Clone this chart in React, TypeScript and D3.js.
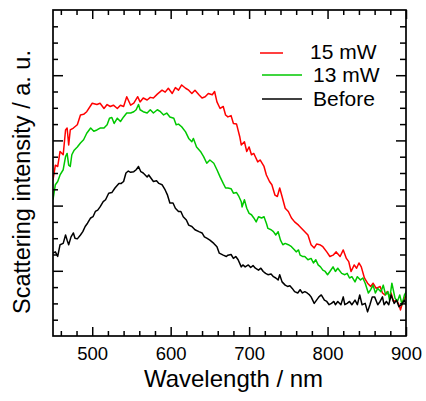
import { useRef, useEffect } from "react";
import * as d3 from "d3";

// 15 mW (red)
const redWl = [
  450, 453, 456, 459, 463, 466, 468, 470, 472, 476, 481, 485, 489, 493, 500, 506, 510, 515, 519, 523,
  527, 532, 536, 540, 544, 549, 553, 558, 561, 565, 570, 574, 578, 583, 589, 593, 597, 602, 606, 610,
  614, 619, 623, 627, 631, 636, 640, 644, 648, 653, 656, 659, 663, 667, 670,
  673, 677, 680, 684, 688, 690, 694, 697, 700, 703, 706, 711, 714, 719, 722, 726, 729, 733, 736, 739,
  742, 746, 750, 754, 758, 763, 767, 771, 775, 779, 783, 786, 790, 794, 799, 803, 807, 811, 816, 820,
  824, 827, 830, 834, 837, 840, 843, 847, 851, 855, 858, 862, 867, 870, 873, 876, 879, 881, 884, 888,
  891, 893, 896, 899, 902,
];
const redVal = [
  2.39, 2.62, 2.6, 2.83, 2.78, 3.16, 3.19, 2.93, 3.16, 3.19, 3.24, 3.39, 3.4, 3.44, 3.57, 3.55, 3.57, 3.49, 3.55, 3.52,
  3.54, 3.49, 3.54, 3.52, 3.67, 3.54, 3.57, 3.67, 3.59, 3.65, 3.62, 3.66, 3.65, 3.71, 3.77, 3.74, 3.8, 3.72, 3.81, 3.77,
  3.85, 3.8, 3.77, 3.72, 3.77, 3.7, 3.65, 3.67, 3.72, 3.7, 3.75, 3.59, 3.49, 3.52, 3.39,
  3.36, 3.38, 3.26, 3.25, 3.06, 2.93, 2.98, 2.83, 2.9, 2.78, 2.8, 2.67, 2.7, 2.6, 2.47, 2.37, 2.32, 2.16, 2.14, 2.27,
  2.14, 1.96, 1.91, 1.81, 1.75, 1.7, 1.65, 1.6, 1.55, 1.4, 1.35, 1.41, 1.4, 1.37, 1.29, 1.22, 1.24, 1.29, 1.22, 1.32,
  1.19, 1.14, 0.99, 1.09, 1.04, 1.12, 1.06, 0.89, 0.81, 0.76, 0.81, 0.73, 0.76, 0.66, 0.63, 0.68, 0.6, 0.66, 0.53, 0.55,
  0.48, 0.4, 0.53, 0.6, 0.63,
];

// 13 mW (green)
const greenWl = [
  450, 453, 456, 459, 463, 466, 468, 470, 472, 474, 477, 481, 485, 489, 493, 498, 502, 506, 510, 515,
  519, 522, 525, 528, 532, 536, 540, 544, 549, 553, 556, 559, 561, 565, 570, 574, 578, 583, 587, 591,
  595, 599, 604, 607, 610, 614, 619, 623, 627, 629, 633, 638, 642, 646, 650, 655, 659, 663, 667, 670,
  673, 677, 680, 684, 687, 690, 691, 694, 697, 700, 703, 706, 709, 712, 716, 719, 722, 724, 728, 731,
  734, 737, 740, 743, 746, 750, 754, 758, 760, 763, 765, 768, 771, 775, 779, 782, 785, 788, 791, 794,
  797, 800, 803, 807, 810, 813, 818, 822, 825, 828, 831, 835, 838, 842, 845, 848, 852, 855, 858, 861,
  864, 868, 871, 874, 877, 879, 882, 886, 889, 892, 895, 898, 902,
];
const greenVal = [
  2.09, 2.32, 2.37, 2.47, 2.55, 2.75, 2.8, 2.62, 2.6, 2.78, 2.85, 2.9, 2.96, 3.01, 3.11, 3.19, 3.14, 3.16, 3.19, 3.19,
  3.24, 3.34, 3.35, 3.26, 3.34, 3.29, 3.36, 3.42, 3.42, 3.44, 3.47, 3.55, 3.47, 3.44, 3.42, 3.47, 3.42, 3.47, 3.44, 3.39,
  3.42, 3.36, 3.34, 3.24, 3.25, 3.21, 3.13, 3.03, 2.98, 3.03, 2.9, 2.83, 2.75, 2.65, 2.7, 2.65, 2.55, 2.44, 2.34, 2.27,
  2.27, 2.26, 2.19, 2.2, 2.14, 2.06, 1.98, 2.09, 1.96, 1.88, 1.86, 1.81, 1.75, 1.83, 1.81, 1.83, 1.73, 1.65, 1.63, 1.6,
  1.55, 1.6, 1.47, 1.4, 1.42, 1.4, 1.37, 1.32, 1.29, 1.32, 1.24, 1.22, 1.22, 1.17, 1.19, 1.12, 1.17, 1.09, 1.06, 1.01,
  0.99, 0.94, 0.99, 1.06, 0.99, 1.04, 0.96, 0.94, 0.96, 0.89, 0.91, 0.83, 0.91, 0.86, 0.89, 0.81, 0.66, 0.71, 0.78, 0.66,
  0.73, 0.68, 0.78, 0.63, 0.68, 0.55, 0.81, 0.58, 0.53, 0.63, 0.48, 0.63, 0.71,
];

// Before (black)
const blackWl = [
  450, 453, 456, 459, 463, 466, 468, 470, 473, 476, 478, 481, 485, 488, 491, 494, 498, 501, 504, 507,
  510, 514, 517, 521, 525, 529, 534, 537, 540, 543, 546, 549, 553, 556, 559, 562, 565, 570, 572, 575,
  578, 582, 585, 589, 593, 596, 599, 603, 606, 610, 613, 616, 620, 623, 627, 631, 636, 640, 643, 646,
  650, 655, 659, 662, 667, 671,
  673, 677, 680, 683, 686, 690, 692, 695, 699, 702, 705, 708, 712, 715, 718, 721, 724, 728, 731, 734,
  737, 739, 742, 746, 749, 752, 755, 758, 762, 765, 768, 771, 774, 777, 779, 783, 786, 789, 792, 796,
  799, 802, 805, 808, 810, 813, 817, 820, 822, 825, 828, 831, 835, 838, 841, 844, 848, 851, 854, 857,
  860, 864, 867, 870, 872, 875, 878, 881, 885, 888, 891, 894, 898, 900, 902,
];
const blackVal = [
  1.27, 1.29, 1.22, 1.4, 1.42, 1.55, 1.47, 1.4, 1.52, 1.58, 1.5, 1.49, 1.55, 1.6, 1.68, 1.73, 1.81, 1.83, 1.91, 1.93,
  1.98, 2.06, 2.09, 2.19, 2.2, 2.27, 2.34, 2.34, 2.37, 2.5, 2.53, 2.51, 2.52, 2.55, 2.6, 2.52, 2.5, 2.44, 2.47, 2.42,
  2.37, 2.38, 2.34, 2.32, 2.24, 2.16, 2.04, 2.04, 1.96, 1.91, 1.91, 1.83, 1.78, 1.7, 1.68, 1.63, 1.6, 1.58, 1.52, 1.5,
  1.47, 1.42, 1.37, 1.27, 1.24, 1.22,
  1.24, 1.25, 1.19, 1.22, 1.17, 1.06, 1.09, 1.06, 1.09, 1.05, 1.08, 1.04, 1.01, 1.04, 0.99, 0.96, 0.94, 0.95, 0.91, 0.89,
  0.86, 0.94, 0.83, 0.78, 0.76, 0.77, 0.73, 0.68, 0.66, 0.71, 0.66, 0.68, 0.66, 0.63, 0.6, 0.5, 0.55, 0.6, 0.63, 0.55,
  0.53, 0.48, 0.5, 0.53, 0.48, 0.53, 0.48, 0.6, 0.48, 0.5, 0.53, 0.48, 0.55, 0.48, 0.63, 0.48, 0.5, 0.37, 0.48, 0.6,
  0.6, 0.48, 0.53, 0.6, 0.48, 0.53, 0.48, 0.63, 0.5, 0.55, 0.45, 0.48, 0.55, 0.48, 0.53,
];

const seriesNames = ["15 mW", "13 mW", "Before"];
const seriesColors = ["#ff0000", "#00c800", "#000000"];
const xMajorTicks = [500, 600, 700, 800, 900];
const xMinorTicks = [460, 480, 520, 540, 560, 580, 620, 640, 660, 680, 720, 740, 760, 780, 820, 840, 860, 880];
const yMajorTicks = [1, 2, 3, 4];
const yMinorTicks = [0.25, 0.5, 0.75, 1.25, 1.5, 1.75, 2.25, 2.5, 2.75, 3.25, 3.5, 3.75, 4.25, 4.5, 4.75];

const FONT = "'Liberation Sans', Arial, Helvetica, sans-serif";

const App = () => {
  const svgRef = useRef(null);

  useEffect(() => {
    const width = 426;
    const height = 401;
    const m = { left: 53, right: 406, top: 10, bottom: 336 };
    const svg = d3.select(svgRef.current);
    svg.selectAll("*").remove();
    svg.attr("width", width).attr("height", height);

    const x = d3.scaleLinear().domain([450, 900]).range([m.left, m.right]);
    const y = d3.scaleLinear().domain([0, 5]).range([m.bottom, m.top]);

    svg
      .append("clipPath")
      .attr("id", "plot-clip")
      .append("rect")
      .attr("x", m.left)
      .attr("y", m.top)
      .attr("width", m.right - m.left)
      .attr("height", m.bottom - m.top);

    // data lines
    const line = d3
      .line()
      .x((d) => x(d[0]))
      .y((d) => y(d[1]));
    const series = [
      d3.zip(redWl, redVal),
      d3.zip(greenWl, greenVal),
      d3.zip(blackWl, blackVal),
    ];
    svg
      .append("g")
      .attr("clip-path", "url(#plot-clip)")
      .selectAll("path")
      .data(series)
      .join("path")
      .attr("d", (d) => line(d))
      .attr("fill", "none")
      .attr("stroke", (d, i) => seriesColors[i])
      .attr("stroke-width", 1.5)
      .attr("stroke-linejoin", "round");

    // ticks (inward on all four sides)
    const tickStyle = (g) => {
      g.select(".domain").remove();
      g.selectAll("line").attr("stroke", "#000").attr("stroke-width", 1.5);
    };
    svg
      .append("g")
      .attr("transform", `translate(0,${m.bottom})`)
      .call(d3.axisBottom(x).tickValues(xMinorTicks).tickSize(-5).tickFormat(() => ""))
      .call(tickStyle);
    svg
      .append("g")
      .attr("transform", `translate(0,${m.bottom})`)
      .call(d3.axisBottom(x).tickValues(xMajorTicks).tickSize(-9).tickPadding(11))
      .call(tickStyle)
      .call((g) =>
        g.selectAll("text").attr("font-family", FONT).attr("font-size", 18.5).attr("fill", "#000")
      );
    svg
      .append("g")
      .attr("transform", `translate(0,${m.top})`)
      .call(d3.axisTop(x).tickValues(xMinorTicks).tickSize(-5).tickFormat(() => ""))
      .call(tickStyle);
    svg
      .append("g")
      .attr("transform", `translate(0,${m.top})`)
      .call(d3.axisTop(x).tickValues(xMajorTicks).tickSize(-9).tickFormat(() => ""))
      .call(tickStyle);
    svg
      .append("g")
      .attr("transform", `translate(${m.left},0)`)
      .call(d3.axisLeft(y).tickValues(yMinorTicks).tickSize(-5).tickFormat(() => ""))
      .call(tickStyle);
    svg
      .append("g")
      .attr("transform", `translate(${m.left},0)`)
      .call(d3.axisLeft(y).tickValues(yMajorTicks).tickSize(-10).tickFormat(() => ""))
      .call(tickStyle);
    svg
      .append("g")
      .attr("transform", `translate(${m.right},0)`)
      .call(d3.axisRight(y).tickValues(yMinorTicks).tickSize(-6).tickFormat(() => ""))
      .call(tickStyle);
    svg
      .append("g")
      .attr("transform", `translate(${m.right},0)`)
      .call(d3.axisRight(y).tickValues(yMajorTicks).tickSize(-10).tickFormat(() => ""))
      .call(tickStyle);

    // frame
    svg
      .append("rect")
      .attr("x", m.left)
      .attr("y", m.top)
      .attr("width", m.right - m.left)
      .attr("height", m.bottom - m.top)
      .attr("fill", "none")
      .attr("stroke", "#000")
      .attr("stroke-width", 1.7);

    // axis titles
    svg
      .append("text")
      .attr("x", (m.left + m.right) / 2 + 4)
      .attr("y", 387)
      .attr("text-anchor", "middle")
      .attr("font-family", FONT)
      .attr("font-size", 24)
      .text("Wavelength / nm");
    svg
      .append("text")
      .attr("transform", `translate(30,${(m.top + m.bottom) / 2 + 9}) rotate(-90)`)
      .attr("text-anchor", "middle")
      .attr("font-family", FONT)
      .attr("font-size", 23.5)
      .text("Scattering intensity / a. u.");

    // legend
    const legendRows = [
      { x1: 260, x2: 283, tx: 310, ly: 53, ty: 59 },
      { x1: 262, x2: 302, tx: 313, ly: 75, ty: 82 },
      { x1: 262, x2: 302, tx: 313, ly: 99, ty: 106 },
    ];
    const legend = svg.append("g");
    legend
      .selectAll("line")
      .data(legendRows)
      .join("line")
      .attr("x1", (d) => d.x1)
      .attr("x2", (d) => d.x2)
      .attr("y1", (d) => d.ly)
      .attr("y2", (d) => d.ly)
      .attr("stroke", (d, i) => seriesColors[i])
      .attr("stroke-width", 1.5);
    legend
      .selectAll("text")
      .data(legendRows)
      .join("text")
      .attr("x", (d) => d.tx)
      .attr("y", (d) => d.ty)
      .attr("font-family", FONT)
      .attr("font-size", 21)
      .text((d, i) => seriesNames[i]);
  }, []);

  return (
    <div>
      <svg
        ref={svgRef}
        style={{ position: "absolute", left: 0, top: 0, background: "#fff" }}
      ></svg>
    </div>
  );
};

export default App;
